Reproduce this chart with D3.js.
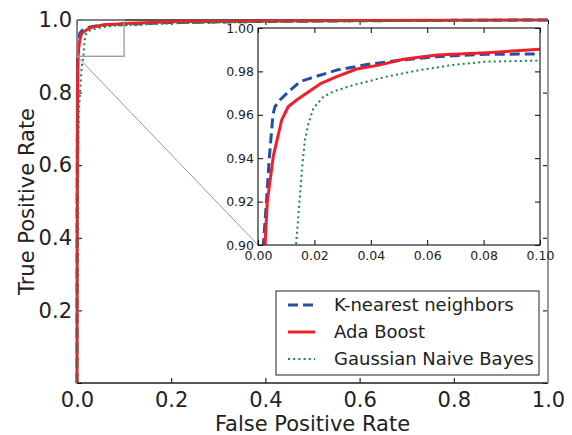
<!DOCTYPE html>
<html>
<head>
<meta charset="utf-8">
<script src="https://cdn.jsdelivr.net/npm/d3@7"></script>
<style>
  body { margin: 0; background: #fff; }
  svg { display: block; font-family: 'DejaVu Sans', sans-serif; }
</style>
</head>
<body>
<svg id="chart" width="572" height="435"></svg>
<script>
// ROC points: [false positive rate, true positive rate]
const knnPoints = [
  [0, 0], [0.0003, 0.5], [0.001, 0.8], [0.0015, 0.88], [0.0019, 0.9], [0.003, 0.92],
  [0.004, 0.94], [0.0053, 0.96], [0.006, 0.9637], [0.0078, 0.9668], [0.0102, 0.9699],
  [0.0149, 0.9753], [0.0184, 0.9768], [0.0279, 0.9806], [0.0397, 0.9834], [0.0514, 0.9853],
  [0.0634, 0.9868], [0.081, 0.9879], [0.1, 0.988], [0.2, 0.993], [0.4, 0.996],
  [0.6, 0.998], [0.8, 0.999], [1, 1]
];
const adaPoints = [
  [0, 0], [0.0005, 0.5], [0.0012, 0.8], [0.002, 0.88], [0.0025, 0.9], [0.0033, 0.92],
  [0.0054, 0.9407], [0.0084, 0.9576], [0.0107, 0.9637], [0.0137, 0.9668], [0.022, 0.9742],
  [0.0279, 0.9776], [0.035, 0.9811], [0.0433, 0.983], [0.0515, 0.9856], [0.0634, 0.9876],
  [0.081, 0.9886], [0.1, 0.9902], [0.2, 0.995], [0.4, 0.997], [0.6, 0.9985],
  [0.8, 0.9993], [1, 1]
];
const gnbPoints = [
  [0, 0], [0.001, 0.4], [0.004, 0.75], [0.01, 0.87], [0.0135, 0.9], [0.0143, 0.913],
  [0.0156, 0.935], [0.0166, 0.948], [0.0178, 0.9555], [0.0196, 0.963], [0.0232, 0.9683],
  [0.0267, 0.9707], [0.0338, 0.9737], [0.0456, 0.9776], [0.0574, 0.9806], [0.0693, 0.983],
  [0.081, 0.9845], [0.1, 0.985], [0.2, 0.991], [0.4, 0.995], [0.6, 0.997],
  [0.8, 0.999], [1, 1]
];

const seriesNames = ['K-nearest neighbors', 'Ada Boost', 'Gaussian Naive Bayes'];
const mainTicks = [0, 0.2, 0.4, 0.6, 0.8, 1.0];
const insetXTicks = [0, 0.02, 0.04, 0.06, 0.08, 0.1];
const insetYTicks = [0.9, 0.92, 0.94, 0.96, 0.98, 1.0];
const insetXDomain = [0, 0.1];
const insetYDomain = [0.9, 1.0];

const series = [
  { name: seriesNames[0], points: knnPoints, color: '#2150a6', width: 3, dash: '10,5' },
  { name: seriesNames[1], points: adaPoints, color: '#f0202a', width: 3, dash: null },
  { name: seriesNames[2], points: gnbPoints, color: '#15884a', width: 2, dash: '2,3.2' }
];

const svg = d3.select('#chart');
const main = { left: 77, right: 548, top: 20, bottom: 383 };
const inset = { left: 258, right: 540, top: 28, bottom: 245 };

const x = d3.scaleLinear().domain([0, 1]).range([main.left, main.right]);
const y = d3.scaleLinear().domain([0, 1]).range([main.bottom, main.top]);
const xi = d3.scaleLinear().domain(insetXDomain).range([inset.left, inset.right]);
const yi = d3.scaleLinear().domain(insetYDomain).range([inset.bottom, inset.top]);

const drawCurves = (g, sx, sy) => {
  const line = d3.line().x(d => sx(d[0])).y(d => sy(d[1]));
  series.forEach(s => {
    g.append('path')
      .datum(s.points)
      .attr('fill', 'none')
      .attr('stroke', s.color)
      .attr('stroke-width', s.width)
      .attr('stroke-dasharray', s.dash)
      .attr('stroke-linejoin', 'round')
      .attr('d', line);
  });
};

const styleText = (a, size) => a.selectAll('text')
  .attr('font-size', size).attr('fill', '#222').attr('font-family', 'DejaVu Sans');

// --- main axes ---
const fmt1 = d3.format('.1f');
const mainG = svg.append('g');

mainG.append('g')
  .attr('transform', `translate(0,${main.bottom})`)
  .call(d3.axisBottom(x).tickValues(mainTicks).tickFormat(fmt1).tickSizeInner(-5).tickSizeOuter(0).tickPadding(9))
  .call(a => a.select('.domain').remove())
  .call(a => styleText(a, 21));

// the y axis shows no 0.0 label
mainG.append('g')
  .attr('transform', `translate(${main.left},0)`)
  .call(d3.axisLeft(y).tickValues(mainTicks).tickFormat(d => d === 0 ? '' : fmt1(d)).tickSizeInner(-5).tickSizeOuter(0).tickPadding(5))
  .call(a => a.select('.domain').remove())
  .call(a => styleText(a, 21));

// top and right ticks, inward
mainG.append('g')
  .attr('transform', `translate(0,${main.top})`)
  .call(d3.axisTop(x).tickValues(mainTicks).tickFormat('').tickSizeInner(-5).tickSizeOuter(0))
  .call(a => a.select('.domain').remove());
mainG.append('g')
  .attr('transform', `translate(${main.right},0)`)
  .call(d3.axisRight(y).tickValues(mainTicks).tickFormat('').tickSizeInner(-5).tickSizeOuter(0))
  .call(a => a.select('.domain').remove());

// spines
mainG.append('path')
  .attr('d', `M${main.left},${main.top}H${main.right}M${main.left},${main.top}V${main.bottom}H${main.right}`)
  .attr('fill', 'none').attr('stroke', '#222').attr('stroke-width', 1.3);
mainG.append('line')
  .attr('x1', main.right).attr('x2', main.right)
  .attr('y1', main.top + 4).attr('y2', main.bottom)
  .attr('stroke', '#9a9a9a').attr('stroke-width', 2);

drawCurves(mainG, x, y);

// zoom box and connector
mainG.append('rect')
  .attr('x', x(insetXDomain[0])).attr('y', y(insetYDomain[1]))
  .attr('width', x(insetXDomain[1]) - x(insetXDomain[0]))
  .attr('height', y(insetYDomain[0]) - y(insetYDomain[1]))
  .attr('fill', 'none').attr('stroke', '#999').attr('stroke-width', 1.3);
mainG.append('line')
  .attr('x1', x(insetXDomain[0])).attr('y1', y(insetYDomain[0]))
  .attr('x2', inset.left).attr('y2', inset.bottom)
  .attr('stroke', '#999').attr('stroke-width', 1);

// axis labels
svg.append('text')
  .attr('x', (main.left + main.right) / 2).attr('y', 431)
  .attr('text-anchor', 'middle').attr('font-size', 21).attr('fill', '#222')
  .text('False Positive Rate');
svg.append('text')
  .attr('transform', `translate(34,${(main.top + main.bottom) / 2}) rotate(-90)`)
  .attr('text-anchor', 'middle').attr('font-size', 21).attr('fill', '#222')
  .text('True Positive Rate');

// --- inset ---
const insetG = svg.append('g');
insetG.append('rect')
  .attr('x', inset.left).attr('y', inset.top)
  .attr('width', inset.right - inset.left).attr('height', inset.bottom - inset.top)
  .attr('fill', '#fff');

svg.append('clipPath').attr('id', 'insetClip')
  .append('rect')
  .attr('x', inset.left).attr('y', inset.top)
  .attr('width', inset.right - inset.left).attr('height', inset.bottom - inset.top);

drawCurves(insetG.append('g').attr('clip-path', 'url(#insetClip)'), xi, yi);

const fmt2 = d3.format('.2f');
insetG.append('g')
  .attr('transform', `translate(0,${inset.bottom})`)
  .call(d3.axisBottom(xi).tickValues(insetXTicks).tickFormat(fmt2).tickSizeInner(-5).tickSizeOuter(0).tickPadding(6))
  .call(a => a.select('.domain').remove())
  .call(a => styleText(a, 12.5));
insetG.append('g')
  .attr('transform', `translate(${inset.left},0)`)
  .call(d3.axisLeft(yi).tickValues(insetYTicks).tickFormat(fmt2).tickSizeInner(-5).tickSizeOuter(0).tickPadding(4))
  .call(a => a.select('.domain').remove())
  .call(a => styleText(a, 12.5));
insetG.append('g')
  .attr('transform', `translate(0,${inset.top})`)
  .call(d3.axisTop(xi).tickValues(insetXTicks).tickFormat('').tickSizeInner(-5).tickSizeOuter(0))
  .call(a => a.select('.domain').remove());
insetG.append('g')
  .attr('transform', `translate(${inset.right},0)`)
  .call(d3.axisRight(yi).tickValues(insetYTicks).tickFormat('').tickSizeInner(-5).tickSizeOuter(0))
  .call(a => a.select('.domain').remove());

insetG.append('rect')
  .attr('x', inset.left).attr('y', inset.top)
  .attr('width', inset.right - inset.left).attr('height', inset.bottom - inset.top)
  .attr('fill', 'none').attr('stroke', '#222').attr('stroke-width', 1.2);

// --- legend ---
const legend = svg.append('g').attr('transform', 'translate(276,291)');
legend.append('rect')
  .attr('width', 263).attr('height', 84)
  .attr('fill', '#fff').attr('stroke', '#222').attr('stroke-width', 1);
series.forEach((s, i) => {
  const ly = 14 + i * 27;
  legend.append('line')
    .attr('x1', 12).attr('x2', 39).attr('y1', ly).attr('y2', ly)
    .attr('stroke', s.color).attr('stroke-width', s.width)
    .attr('stroke-dasharray', s.dash);
  legend.append('text')
    .attr('x', 58).attr('y', ly + 6)
    .attr('font-size', 18).attr('fill', '#222')
    .text(s.name);
});
</script>
</body>
</html>
